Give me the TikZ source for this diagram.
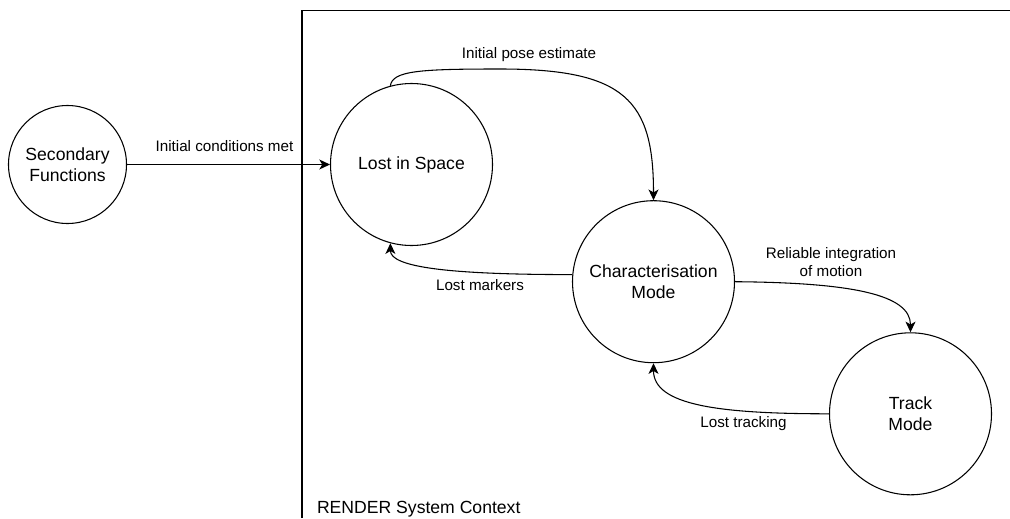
\documentclass[tikz,border=0pt]{standalone}
\usepackage{fontspec}
\setmainfont{Liberation Sans}
\usetikzlibrary{arrows.meta}
\begin{document}
\begin{tikzpicture}[x=0.75pt,y=-0.75pt,
  line width=0.8pt,
  state/.style={draw, circle, inner sep=0pt, minimum size=121.5pt, align=center,
                font=\fontsize{13.2}{15.75}\selectfont},
  small state/.style={state, minimum size=88.5pt},
  flow/.style={draw, -{Stealth[length=8pt,width=7.5pt,inset=2.2pt]}},
  edgelabel/.style={inner sep=0pt, align=center, font=\fontsize{11.4}{13.5}\selectfont},
  frame/.style={draw, line width=0.8pt}]
\useasboundingbox (0,0) rectangle (1010,518);

% system boundary
\draw[frame] (302,518) -- (302,10.6) -- (1010,10.6);
\node[anchor=west, inner sep=0pt, font=\fontsize{13.2}{15.75}\selectfont] (ctx) at (316.5,509) {RENDER System Context};

% states
\node[small state] (sec) at (67.5,164.5) {Secondary\\Functions};
\node[state] (lis) at (411.5,164.5) {Lost in Space};
\node[state] (char) at (653.5,281.7) {Characterisation\\Mode};
\node[state] (track) at (910.5,413.8) {Track\\Mode};

% transitions
\draw[flow] (sec.east) -- (lis.west);
\node[edgelabel] (l1) at (224.5,146.5) {Initial conditions met};

\draw[flow] (lis.105) .. controls +(2,-15) and +(-80,0) .. (500,69)
                      .. controls +(125,0) and +(0,-100) .. (char.north);
\node[edgelabel] (l2) at (529,55) {Initial pose estimate};

\draw[flow] (char.east) .. controls +(116,1) and +(0,-38) .. (track.north);
\node[edgelabel] (l3) at (831,262) {Reliable integration\\of motion};

\draw[flow] (track.west) .. controls +(-110,0) and +(0,42) .. (char.south);
\node[edgelabel] (l4) at (743.5,423.5) {Lost tracking};

\draw[flow] (char.175) .. controls +(-123,0) and +(0,24) .. (lis.255);
\node[edgelabel] (l5) at (480,285.5) {Lost markers};
\end{tikzpicture}
\end{document}
